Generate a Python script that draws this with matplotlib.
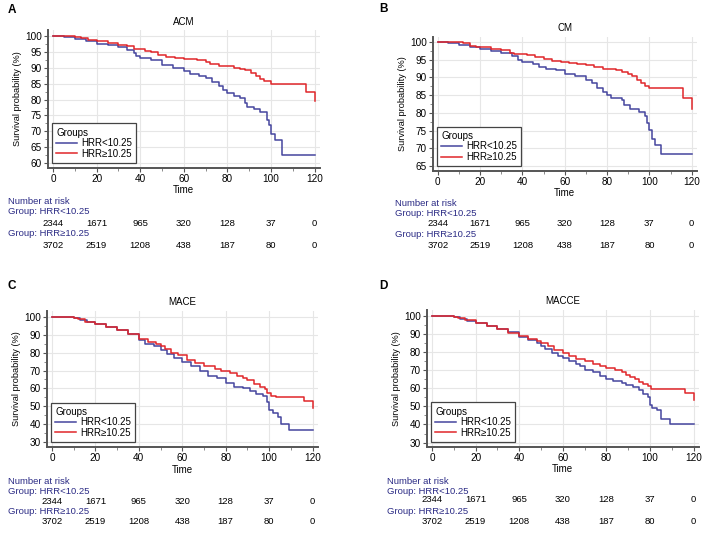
import numpy as np
import matplotlib
matplotlib.use('Agg')
import matplotlib.pyplot as plt
from matplotlib.ticker import MultipleLocator
import matplotlib.transforms as mtransforms

plt.rcParams['font.family'] = ['Liberation Sans', 'DejaVu Sans']

# ---- data ----
groups = ['HRR<10.25', 'HRR\u226510.25']
risk_times = [0, 20, 40, 60, 80, 100, 120]
risk_low = [2344, 1671, 965, 320, 128, 37, 0]
risk_high = [3702, 2519, 1208, 438, 187, 80, 0]

acm_t_low = [0, 5, 10, 15, 20, 25, 30, 34, 37, 38, 40, 45, 50, 55, 60, 63, 67, 70, 73, 76, 78, 80,
             83, 86, 88, 89, 92, 95, 98, 99, 100, 102, 105, 120]
acm_s_low = [100, 99.7, 99.2, 98.5, 97.7, 97.2, 96.5, 95.8, 94.8, 93.8, 93.3, 92.4, 91.0, 90.0, 89.1,
             88.2, 87.6, 86.8, 85.6, 84.2, 83.0, 82.0, 81.0, 80.6, 79.0, 77.8, 77.0, 76.0, 73.5, 72.0,
             69.0, 67.2, 62.5, 62.5]
acm_t_high = [0, 10, 13, 16, 20, 25, 30, 34, 37, 42, 45, 48, 52, 56, 60, 66, 70, 72, 76, 80, 83, 86,
              88, 91, 93, 95, 97, 100, 116, 120]
acm_s_high = [100, 99.8, 99.4, 98.7, 98.4, 97.8, 97.4, 96.8, 95.9, 95.5, 95.0, 94.2, 93.5, 93.0, 92.8,
              92.5, 92.0, 91.2, 90.6, 90.6, 90.0, 89.6, 89.3, 88.4, 87.4, 86.6, 85.9, 85.0, 82.5, 79.5]

cm_t_low = [0, 5, 10, 15, 20, 25, 30, 35, 38, 40, 45, 48, 51, 56, 60, 65, 70, 73, 75, 78, 80, 82, 87,
            88, 91, 95, 98, 99, 100, 101, 102.5, 105.5, 120]
cm_s_low = [100, 99.6, 99.2, 98.6, 97.9, 97.4, 96.8, 95.9, 95.0, 94.4, 93.7, 92.9, 92.5, 92.0, 91.0,
            90.4, 89.2, 88.5, 87.0, 86.0, 85.0, 84.3, 83.5, 82.2, 81.2, 80.2, 79.0, 77.0, 75.2, 72.7,
            70.8, 68.3, 68.3]
cm_t_high = [0, 10, 12, 15, 18, 25, 30, 34, 36, 42, 46, 50, 54, 58, 62, 66, 70, 74, 78, 84, 87, 90,
             92, 94, 96, 98, 100, 116, 120]
cm_s_high = [100, 99.9, 99.6, 99.0, 98.5, 98.1, 97.6, 97.0, 96.5, 96.3, 95.8, 95.2, 94.7, 94.3, 94.2,
             93.9, 93.4, 92.8, 92.5, 92.2, 91.6, 91.0, 90.3, 89.4, 88.4, 87.7, 86.9, 84.2, 81.2]

mace_t_low = [0, 5, 10, 13, 16, 20, 25, 30, 35, 40, 43, 47, 50, 53, 56, 60, 64, 68, 72, 76, 80, 84,
              88, 91, 94, 97, 99, 100, 102, 104, 105.5, 109, 120]
mace_s_low = [100, 99.8, 99.2, 98.2, 97.0, 95.8, 94.2, 92.6, 90.3, 87.3, 85.0, 83.5, 81.5, 79.0, 77.0,
              75.0, 72.5, 69.5, 67.2, 65.8, 63.2, 61.0, 60.0, 58.5, 57.0, 55.5, 52.5, 48.0, 46.0, 44.0,
              40.0, 36.8, 36.8]
mace_t_high = [0, 5, 10, 12, 15, 20, 25, 30, 35, 40, 44, 48, 50, 52, 55, 58, 62, 66, 70, 75, 78, 82,
               85, 88, 90, 93, 96, 98, 99, 101, 103, 116, 120]
mace_s_high = [100, 99.8, 99.4, 98.8, 97.4, 95.8, 94.3, 92.8, 90.6, 87.6, 86.2, 84.6, 83.5, 81.8, 80.0,
               78.5, 76.0, 74.0, 72.6, 71.0, 69.5, 68.5, 67.0, 66.0, 64.6, 62.5, 61.0, 59.5, 57.5,
               56.0, 54.9, 52.8, 49.3]

macce_t_low = [0, 5, 10, 13, 16, 20, 25, 30, 35, 40, 44, 48, 50, 52, 55, 58, 60, 63, 66, 68, 70, 74,
               77, 80, 83, 87, 89, 92, 95, 97, 99, 100, 101, 103, 105, 109, 120]
macce_s_low = [100, 99.8, 99.3, 98.4, 97.3, 95.8, 94.3, 92.7, 90.8, 88.4, 86.4, 84.8, 83.5, 81.5, 79.3,
               77.5, 76.5, 74.8, 73.5, 72.0, 70.1, 68.8, 67.0, 65.2, 64.0, 63.0, 61.5, 60.5, 59.0,
               57.0, 55.0, 50.5, 49.2, 47.8, 43.2, 40.1, 40.1]
macce_t_high = [0, 5, 10, 12, 15, 20, 25, 30, 35, 40, 44, 48, 50, 53, 56, 60, 63, 66, 70, 74, 77, 80,
                84, 87, 89, 91, 93, 95, 97, 99, 100.5, 116, 120]
macce_s_high = [100, 99.8, 99.4, 98.8, 97.4, 95.8, 94.3, 92.7, 90.7, 88.6, 87.2, 85.8, 85.0, 83.0, 81.0,
                79.3, 77.5, 76.0, 74.9, 73.5, 72.5, 71.0, 70.0, 69.0, 67.2, 66.0, 64.8, 63.4, 62.5,
                61.0, 59.3, 57.5, 53.6]

BLUE = '#45459e'
RED = '#e0262a'
NAVY = '#2b2b85'
W, H = 708, 541
FS = 7.0

fig = plt.figure(figsize=(W / 100, H / 100), dpi=100)


def px_axes(l, t, r, b):
    return fig.add_axes([l / W, 1 - b / H, (r - l) / W, (b - t) / H])


def fy(y):
    return 1 - y / H


def panel(box, letter, letter_xy, title, title_y, t_low, s_low, t_high, s_high,
          ylim, ystep, time_y, table_x, table_ys):
    ax = px_axes(*box)
    ax.step(t_low, s_low, where='post', color=BLUE, lw=1.1, label=groups[0])
    ax.step(t_high, s_high, where='post', color=RED, lw=1.1, label=groups[1])
    ax.set_xlim(-2.3, 122.5)
    ax.set_ylim(*ylim)
    ax.set_xticks(risk_times)
    ax.xaxis.set_minor_locator(MultipleLocator(10))
    ax.set_yticks(np.arange(ylim[0] + (-ylim[0]) % ystep, 100.01, ystep))
    ax.yaxis.set_minor_locator(MultipleLocator(ystep / 2))
    ax.grid(True, color='#e6e6e6', lw=0.8)
    ax.set_axisbelow(True)
    for s in ['top', 'right']:
        ax.spines[s].set_visible(False)
    for s in ['left', 'bottom']:
        ax.spines[s].set_color('#555555')
        ax.spines[s].set_linewidth(1.4)
    ax.tick_params(labelsize=7.2, length=3, width=0.8, color='#555555', pad=1.5)
    ax.tick_params(which='minor', length=2, width=0.6, color='#777777')
    ax.set_ylabel('Survival probability (%)', fontsize=6.6, labelpad=2)
    leg = ax.legend(title='Groups', loc='lower left', bbox_to_anchor=(0.015, 0.035),
                    fontsize=FS, title_fontsize=FS, alignment='left', fancybox=False,
                    edgecolor='#444444', framealpha=1, borderpad=0.45, handlelength=2.1,
                    handletextpad=0.45, labelspacing=0.05, borderaxespad=0)
    leg.get_frame().set_linewidth(0.9)
    fig.text(letter_xy[0] / W, fy(letter_xy[1]), letter, fontsize=8.5, fontweight='bold',
             ha='left', va='center')
    xc = ax.transData.transform((60, 0))[0] / W
    fig.text(xc, fy(title_y), title, fontsize=FS, ha='center', va='center')
    fig.text(xc, fy(time_y), 'Time', fontsize=FS, ha='center', va='center')
    # number at risk table
    trans = mtransforms.blended_transform_factory(ax.transData, fig.transFigure)
    y0, y1, y2, y3, y4 = table_ys
    fig.text(table_x / W, fy(y0), 'Number at risk', fontsize=6.8, color=NAVY, va='center')
    fig.text(table_x / W, fy(y1), 'Group: ' + groups[0], fontsize=6.8, color=NAVY, va='center')
    fig.text(table_x / W, fy(y3), 'Group: ' + groups[1], fontsize=6.8, color=NAVY, va='center')
    for t, n1, n2 in zip(risk_times, risk_low, risk_high):
        ax.text(t, fy(y2), str(n1), transform=trans, fontsize=6.8, ha='center', va='center')
        ax.text(t, fy(y4), str(n2), transform=trans, fontsize=6.8, ha='center', va='center')
    return ax


panel((48, 30, 320, 168), 'A', (8, 10), 'ACM', 22, acm_t_low, acm_s_low, acm_t_high, acm_s_high,
      (58.4, 102.0), 5, 190, 8, (201, 211, 223, 233, 245))
panel((433, 37, 697, 171), 'B', (379, 9), 'CM', 28, cm_t_low, cm_s_low, cm_t_high, cm_s_high,
      (63.6, 101.4), 5, 193, 395, (203, 213, 224, 235, 246))
panel((47, 311, 318, 447), 'C', (8, 286), 'MACE', 302, mace_t_low, mace_s_low, mace_t_high,
      mace_s_high, (27.2, 103.3), 10, 470, 8, (481, 491, 502, 512, 522))
panel((427, 310, 699, 447), 'D', (379, 286), 'MACCE', 301, macce_t_low, macce_s_low,
      macce_t_high, macce_s_high, (27.6, 103.1), 10, 469, 387, (481, 491, 500, 512, 521))

fig.savefig('out.png', dpi=100)
